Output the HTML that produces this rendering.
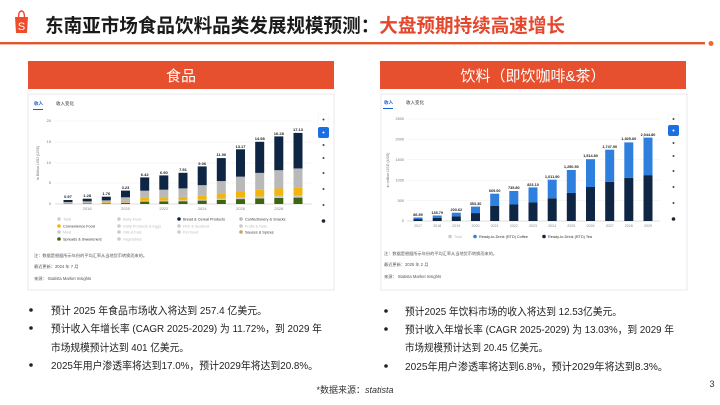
<!DOCTYPE html>
<html><head><meta charset="utf-8"><style>
body{margin:0;background:#fff}
svg{display:block;font-family:"Liberation Sans","Noto Sans CJK SC",sans-serif}
</style></head><body>
<svg width="720" height="405" viewBox="0 0 720 405" xmlns="http://www.w3.org/2000/svg">
<!-- header -->
<path d="M18.5 18 Q18.5 11 21.5 11 Q24.5 11 24.5 18" fill="none" stroke="#ee4d2d" stroke-width="1.4"/>
<path d="M15 17 L28 17 L27 33 L16 33 Z" fill="#ee4d2d"/>
<text x="21.5" y="30" font-size="11" fill="#fff" text-anchor="middle">S</text>
<text x="45" y="32" font-size="19" font-weight="bold" fill="#1a1a1a" textLength="520" lengthAdjust="spacingAndGlyphs">东南亚市场食品饮料品类发展规模预测：<tspan fill="#e4472b">大盘预期持续高速增长</tspan></text>
<rect x="0" y="42" width="705" height="2.4" fill="#e4572e"/>
<circle cx="711" cy="43.5" r="2.5" fill="#ee6a2d"/>
<!-- section headers -->
<rect x="28" y="61" width="306" height="28" fill="#e6502e"/>
<text x="181" y="81" font-size="15" fill="#fff" text-anchor="middle">食品</text>
<rect x="380" y="61" width="306" height="28" fill="#e6502e"/>
<text x="533" y="81" font-size="15" fill="#fff" text-anchor="middle">饮料（即饮咖啡&amp;茶）</text>
<!-- cards -->
<rect x="28" y="94" width="306" height="196" fill="#fff" stroke="#e6e9ee"/>
<rect x="381" y="94" width="306" height="196" fill="#fff" stroke="#e6e9ee"/>

<!-- LEFT CHART -->
<g font-size="4.5" fill="#333">
<text x="34" y="105" fill="#1b5fcf" font-weight="bold">收入</text>
<text x="56" y="105">收入变化</text>
<rect x="33" y="109" width="10" height="1" fill="#1b5fcf"/>
</g>
<g stroke="#eee" stroke-width="0.5">
<line x1="55" y1="121" x2="312" y2="121"/><line x1="55" y1="142" x2="312" y2="142"/>
<line x1="55" y1="163" x2="312" y2="163"/><line x1="55" y1="183" x2="312" y2="183"/>
<line x1="55" y1="204" x2="312" y2="204" stroke="#bbb"/>
</g>
<g font-size="4" fill="#777" text-anchor="end">
<text x="51" y="122">20</text><text x="51" y="143">15</text><text x="51" y="164">10</text><text x="51" y="184">5</text><text x="51" y="205">0</text>
</g>
<text transform="translate(39,163) rotate(-90)" font-size="3.8" fill="#777" text-anchor="middle">in Billion USD (US$)</text>
<defs>
<g id="fb">
<rect x="-4.5" y="-0.09" width="9" height="0.09" fill="#3d6512"/>
<rect x="-4.5" y="-0.12" width="9" height="0.03" fill="#c9c9c9"/>
<rect x="-4.5" y="-0.23" width="9" height="0.11" fill="#f2b50f"/>
<rect x="-4.5" y="-0.50" width="9" height="0.27" fill="#b9b9b9"/>
<rect x="-4.5" y="-1" width="9" height="0.50" fill="#0f2544"/>
</g>
<g id="db">
<rect x="-4.5" y="-0.55" width="9" height="0.55" fill="#0f2544"/>
<rect x="-4.5" y="-1" width="9" height="0.45" fill="#2f7fdf"/>
</g>
</defs>
<g>
<use href="#fb" transform="translate(68,204) scale(1,4)"/>
<use href="#fb" transform="translate(87.2,204) scale(1,5.3)"/>
<use href="#fb" transform="translate(106.3,204) scale(1,7.3)"/>
<use href="#fb" transform="translate(125.5,204) scale(1,13.4)"/>
<use href="#fb" transform="translate(144.7,204) scale(1,26.6)"/>
<use href="#fb" transform="translate(163.8,204) scale(1,28.6)"/>
<use href="#fb" transform="translate(183,204) scale(1,31.2)"/>
<use href="#fb" transform="translate(202.2,204) scale(1,37.6)"/>
<use href="#fb" transform="translate(221.3,204) scale(1,45.9)"/>
<use href="#fb" transform="translate(240.5,204) scale(1,54.7)"/>
<use href="#fb" transform="translate(259.7,204) scale(1,62.2)"/>
<use href="#fb" transform="translate(278.8,204) scale(1,67.6)"/>
<use href="#fb" transform="translate(298,204) scale(1,71.1)"/>
</g>
<g font-size="4" font-weight="bold" fill="#222" text-anchor="middle">
<text x="68" y="198">0.97</text><text x="87.2" y="197">1.28</text><text x="106.3" y="195">1.76</text>
<text x="125.5" y="189">3.23</text><text x="144.7" y="176">6.42</text><text x="163.8" y="174">6.90</text>
<text x="183" y="171">7.51</text><text x="202.2" y="165">9.06</text><text x="221.3" y="156">11.06</text>
<text x="240.5" y="148">13.17</text><text x="259.7" y="140">14.98</text><text x="278.8" y="135">16.28</text>
<text x="298" y="131">17.13</text>
</g>
<g font-size="4" fill="#888" text-anchor="middle">
<text x="87.2" y="210">2018</text><text x="125.5" y="210">2020</text><text x="163.8" y="210">2022</text>
<text x="202.2" y="210">2024</text><text x="240.5" y="210">2026</text><text x="278.8" y="210">2028</text>
</g>
<g font-size="3.8" fill="#bbb">
<circle cx="59" cy="219" r="1.8" fill="#ccc"/><text x="63" y="220.5">Total</text>
<circle cx="59" cy="226" r="1.8" fill="#f2b50f"/><text x="63" y="227.5" fill="#333">Convenience Food</text>
<circle cx="59" cy="232" r="1.8" fill="#ccc"/><text x="63" y="233.5">Meat</text>
<circle cx="59" cy="239" r="1.8" fill="#3d6512"/><text x="63" y="240.5" fill="#333">Spreads &amp; Sweeteners</text>
<circle cx="119" cy="219" r="1.8" fill="#ccc"/><text x="123" y="220.5">Baby Food</text>
<circle cx="119" cy="226" r="1.8" fill="#ccc"/><text x="123" y="227.5">Dairy Products &amp; Eggs</text>
<circle cx="119" cy="232" r="1.8" fill="#ccc"/><text x="123" y="233.5">Oils &amp; Fats</text>
<circle cx="119" cy="239" r="1.8" fill="#ccc"/><text x="123" y="240.5">Vegetables</text>
<circle cx="179" cy="219" r="1.8" fill="#0f2544"/><text x="183" y="220.5" fill="#333">Bread &amp; Cereal Products</text>
<circle cx="179" cy="226" r="1.8" fill="#ccc"/><text x="183" y="227.5">Fish &amp; Seafood</text>
<circle cx="179" cy="232" r="1.8" fill="#ccc"/><text x="183" y="233.5">Pet Food</text>
<circle cx="241" cy="219" r="1.8" fill="#b9b9b9"/><text x="245" y="220.5" fill="#333">Confectionery &amp; Snacks</text>
<circle cx="241" cy="226" r="1.8" fill="#ccc"/><text x="245" y="227.5">Fruits &amp; Nuts</text>
<circle cx="241" cy="232" r="1.8" fill="#c9a26a"/><text x="245" y="233.5" fill="#333">Sauces &amp; Spices</text>
</g>
<g font-size="4.2" fill="#555">
<text x="34" y="257">注：数据是根据所示年份的平均汇率从当地货币转换而来的。</text>
<text x="34" y="268">最近更新：2024 年 7 月</text>
<text x="34" y="280">来源：  Statista Market Insights</text>
</g>
<g>
<rect x="318" y="114" width="11" height="11" rx="2" fill="#fff" stroke="#eee" stroke-width=".5"/>
<rect x="318" y="127" width="11" height="11" rx="2" fill="#1b6fe0"/>
<g fill="#444"><circle cx="323.5" cy="145" r="1"/><circle cx="323.5" cy="158" r="1"/><circle cx="323.5" cy="173" r="1"/><circle cx="323.5" cy="189" r="1"/><circle cx="323.5" cy="205" r="1"/><circle cx="323.5" cy="221" r="1.8" fill="#223"/><circle cx="323.5" cy="119.5" r="1"/></g>
<circle cx="323.5" cy="132.5" r="1" fill="#fff"/>
</g>

<!-- RIGHT CHART -->
<g font-size="4.5" fill="#333">
<text x="384" y="104" fill="#1b5fcf" font-weight="bold">收入</text>
<text x="406" y="104">收入变化</text>
<rect x="383" y="108" width="10" height="1" fill="#1b5fcf"/>
</g>
<g stroke="#eee" stroke-width="0.5">
<line x1="407" y1="119" x2="660" y2="119"/><line x1="407" y1="139.4" x2="660" y2="139.4"/>
<line x1="407" y1="159.8" x2="660" y2="159.8"/><line x1="407" y1="180.2" x2="660" y2="180.2"/>
<line x1="407" y1="200.6" x2="660" y2="200.6"/><line x1="407" y1="221" x2="660" y2="221" stroke="#bbb"/>
</g>
<g font-size="3.8" fill="#777" text-anchor="end">
<text x="404" y="120">2500</text><text x="404" y="140.5">2000</text><text x="404" y="161">1500</text>
<text x="404" y="181.5">1000</text><text x="404" y="202">500</text><text x="404" y="222">0</text>
</g>
<text transform="translate(389,170) rotate(-90)" font-size="3.8" fill="#777" text-anchor="middle">in million USD (US$)</text>
<g>
<use href="#db" transform="translate(418,221) scale(1,3.5)"/>
<use href="#db" transform="translate(437.2,221) scale(1,5.5)"/>
<use href="#db" transform="translate(456.3,221) scale(1,8.3)"/>
<use href="#db" transform="translate(475.5,221) scale(1,14.4)"/>
<use href="#db" transform="translate(494.7,221) scale(1,27.3)"/>
<use href="#db" transform="translate(513.8,221) scale(1,30)"/>
<use href="#db" transform="translate(533,221) scale(1,33.6)"/>
<use href="#db" transform="translate(552.2,221) scale(1,41.3)"/>
<use href="#db" transform="translate(571.3,221) scale(1,51)"/>
<use href="#db" transform="translate(590.5,221) scale(1,61.8)"/>
<use href="#db" transform="translate(609.7,221) scale(1,71.3)"/>
<use href="#db" transform="translate(628.8,221) scale(1,78.6)"/>
<use href="#db" transform="translate(648,221) scale(1,83.4)"/>
</g>
<g font-size="3.8" font-weight="bold" fill="#222" text-anchor="middle">
<text x="418" y="216">86.59</text><text x="437.2" y="214">135.79</text><text x="456.3" y="211">203.62</text>
<text x="475.5" y="205">353.30</text><text x="494.7" y="192">669.00</text><text x="513.8" y="189">735.80</text>
<text x="533" y="186">823.10</text><text x="552.2" y="178">1,011.90</text><text x="571.3" y="168">1,250.50</text>
<text x="590.5" y="157">1,514.80</text><text x="609.7" y="148">1,747.90</text><text x="628.8" y="140">1,925.60</text>
<text x="648" y="136">2,044.80</text>
</g>
<g font-size="3.6" fill="#888" text-anchor="middle">
<text x="418" y="227">2017</text><text x="437.2" y="227">2018</text><text x="456.3" y="227">2019</text><text x="475.5" y="227">2020</text>
<text x="494.7" y="227">2021</text><text x="513.8" y="227">2022</text><text x="533" y="227">2023</text><text x="552.2" y="227">2024</text>
<text x="571.3" y="227">2025</text><text x="590.5" y="227">2026</text><text x="609.7" y="227">2027</text><text x="628.8" y="227">2028</text>
<text x="648" y="227">2029</text>
</g>
<g font-size="3.8" fill="#333">
<circle cx="450" cy="236.5" r="1.8" fill="#ccc"/><text x="454" y="238" fill="#bbb">Total</text>
<circle cx="475" cy="236.5" r="1.8" fill="#2f7fdf"/><text x="479" y="238">Ready-to-Drink (RTD) Coffee</text>
<circle cx="544" cy="236.5" r="1.8" fill="#0f2544"/><text x="548" y="238">Ready-to-Drink (RTD) Tea</text>
</g>
<g font-size="4.2" fill="#555">
<text x="384" y="255">注：数据是根据所示年份的平均汇率从当地货币转换而来的。</text>
<text x="384" y="266">最近更新：2025 年 2 月</text>
<text x="384" y="278">来源：  Statista Market Insights</text>
</g>
<g>
<rect x="668" y="114" width="11" height="11" rx="2" fill="#fff" stroke="#eee" stroke-width=".5"/>
<rect x="668" y="125" width="11" height="11" rx="2" fill="#1b6fe0"/>
<g fill="#444"><circle cx="673.5" cy="119" r="1"/><circle cx="673.5" cy="143" r="1"/><circle cx="673.5" cy="156" r="1"/><circle cx="673.5" cy="171" r="1"/><circle cx="673.5" cy="187" r="1"/><circle cx="673.5" cy="203" r="1"/><circle cx="673.5" cy="219" r="1.8" fill="#223"/></g>
<circle cx="673.5" cy="130.5" r="1" fill="#fff"/>
</g>

<!-- bullets -->
<g font-size="10.5" fill="#222" lengthAdjust="spacingAndGlyphs">
<circle cx="31" cy="310" r="1.8"/><text x="51" y="314" textLength="216" lengthAdjust="spacingAndGlyphs">预计 2025 年食品市场收入将达到 257.4 亿美元。</text>
<circle cx="31" cy="328" r="1.8"/><text x="51" y="332" textLength="271" lengthAdjust="spacingAndGlyphs">预计收入年增长率 (CAGR 2025-2029) 为 11.72%，到 2029 年</text>
<text x="51" y="351" textLength="138" lengthAdjust="spacingAndGlyphs">市场规模预计达到 401 亿美元。</text>
<circle cx="31" cy="365" r="1.8"/><text x="51" y="369" textLength="267" lengthAdjust="spacingAndGlyphs">2025年用户渗透率将达到17.0%，预计2029年将达到20.8%。</text>
<circle cx="386" cy="311" r="1.8"/><text x="405" y="315" textLength="217" lengthAdjust="spacingAndGlyphs">预计2025 年饮料市场的收入将达到 12.53亿美元。</text>
<circle cx="386" cy="329" r="1.8"/><text x="405" y="333" textLength="269" lengthAdjust="spacingAndGlyphs">预计收入年增长率 (CAGR 2025-2029) 为 13.03%，到 2029 年</text>
<text x="405" y="351" textLength="143" lengthAdjust="spacingAndGlyphs">市场规模预计达到 20.45 亿美元。</text>
<circle cx="386" cy="366" r="1.8"/><text x="405" y="370" textLength="263" lengthAdjust="spacingAndGlyphs">2025年用户渗透率将达到6.8%，预计2029年将达到8.3%。</text>
</g>
<text x="355" y="393" font-size="9" fill="#333" text-anchor="middle">*数据来源：<tspan font-style="italic">statista</tspan></text>
<text x="712" y="387" font-size="9" fill="#333" text-anchor="middle">3</text>
</svg>
</body></html>
